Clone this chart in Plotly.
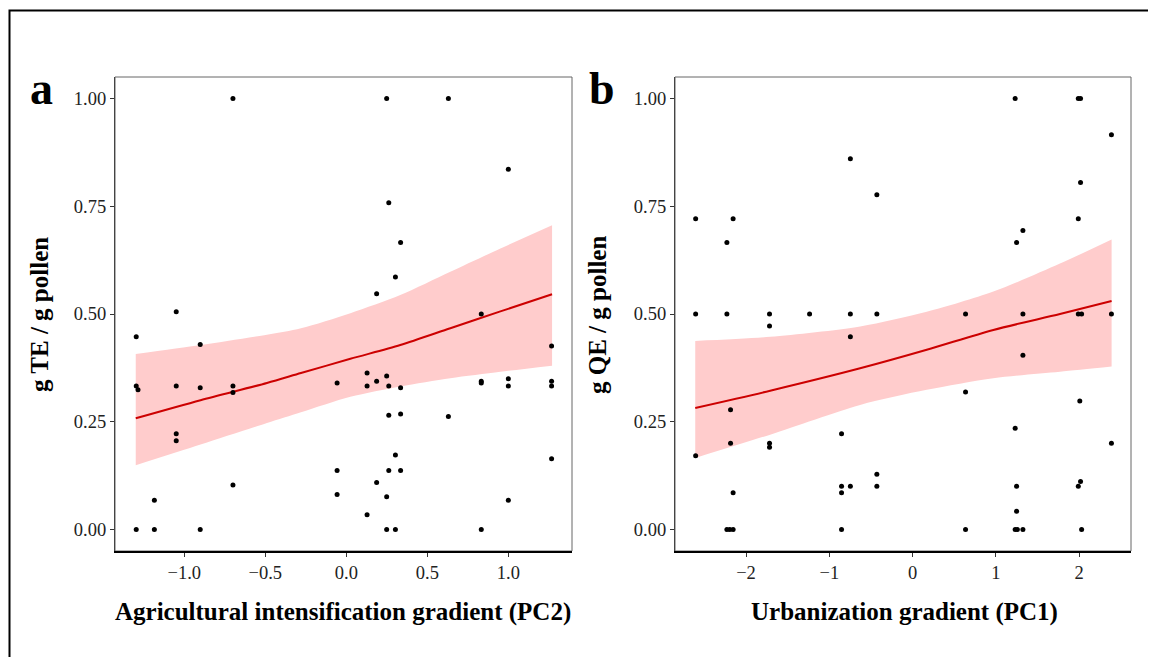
import plotly.graph_objects as go

# ---------------- Panel a data ----------------
a_x = [-0.70, 0.249, 0.63, 1.0, 0.262, 0.335, 0.303, 0.187, -1.05, 0.833, -1.297, -0.902, 1.267,
       -1.297, -1.286, -1.05, -0.902, -0.70, -0.70, -0.057, 0.128, 0.128, 0.187, 0.249, 0.262, 0.335,
       0.833, 0.833, 1.0, 1.0, 1.267, 1.267,
       0.262, 0.335, 0.63, -1.05, -1.05, 0.303, 1.267, -0.057, 0.262, 0.335, -0.70, 0.187, -0.057,
       0.249, -1.185, 1.0, 0.128,
       -1.297, -1.185, -0.902, 0.249, 0.303, 0.833]
a_y = [1.0, 1.0, 1.0, 0.836, 0.758, 0.666, 0.586, 0.547, 0.505, 0.50, 0.447, 0.429, 0.426,
       0.333, 0.324, 0.333, 0.329, 0.333, 0.318, 0.340, 0.363, 0.333, 0.344, 0.356, 0.333, 0.329,
       0.344, 0.340, 0.350, 0.333, 0.344, 0.333,
       0.265, 0.268, 0.262, 0.222, 0.206, 0.173, 0.164, 0.137, 0.137, 0.137, 0.103, 0.109, 0.081,
       0.076, 0.068, 0.068, 0.034,
       0.0, 0.0, 0.0, 0.0, 0.0, 0.0]

# fitted curve and confidence band
a_fit_x = [-1.30, -0.90, -0.49, -0.28, 0.025, 0.333, 0.642, 0.951, 1.27]
a_fit_y = [0.258, 0.300, 0.340, 0.363, 0.396, 0.428, 0.467, 0.506, 0.546]
a_upper = [0.407, 0.428, 0.452, 0.467, 0.502, 0.544, 0.598, 0.652, 0.706]
a_lower = [0.149, 0.197, 0.247, 0.272, 0.308, 0.332, 0.351, 0.366, 0.380]

# ---------------- Panel b data ----------------
b_x = [1.232, 1.99, 2.017, 2.388, -0.747, -0.429, 2.017, -2.605, -2.155, 1.99, -2.23, 1.249, 1.325,
       -2.605, -2.23, -1.718, -1.237, -0.747, -0.429, 0.636, 1.325, 1.99, 2.03, 2.388,
       -1.718, -0.747, 1.325, 0.636, 2.008, -2.186, 1.232, -0.853, -2.186, -1.718, -1.718, 2.388,
       -2.605, -0.429, 2.017, -0.853, -0.747, -0.429, 1.249, 1.99, -0.853, -2.155, 1.249,
       -2.23, -2.195, -2.155, -0.853, 0.636, 1.232, 1.258, 1.325, 2.03]
b_y = [1.0, 1.0, 1.0, 0.916, 0.860, 0.777, 0.805, 0.721, 0.721, 0.721, 0.666, 0.666, 0.694,
       0.5, 0.5, 0.5, 0.5, 0.5, 0.5, 0.5, 0.5, 0.5, 0.5, 0.5,
       0.472, 0.447, 0.404, 0.319, 0.298, 0.278, 0.235, 0.222, 0.200, 0.200, 0.191, 0.200,
       0.171, 0.128, 0.111, 0.100, 0.100, 0.100, 0.100, 0.100, 0.085, 0.085, 0.042,
       0.0, 0.0, 0.0, 0.0, 0.0, 0.0, 0.0, 0.0, 0.0]

b_fit_x = [-2.61, -1.71, -0.63, 0.17, 0.97, 1.77, 2.39]
b_fit_y = [0.282, 0.322, 0.374, 0.417, 0.463, 0.500, 0.530]
b_upper = [0.4375, 0.447, 0.471, 0.505, 0.552, 0.617, 0.673]
b_lower = [0.166, 0.220, 0.289, 0.324, 0.351, 0.366, 0.378]

a_xticks = [-1.0, -0.5, 0.0, 0.5, 1.0]
a_xticklabels = ["\u22121.0", "\u22120.5", "0.0", "0.5", "1.0"]
b_xticks = [-2, -1, 0, 1, 2]
b_xticklabels = ["\u22122", "\u22121", "0", "1", "2"]
yticks = [0.0, 0.25, 0.5, 0.75, 1.0]
yticklabels = ["0.00", "0.25", "0.50", "0.75", "1.00"]

# page body has an 8px margin: figure is drawn at (8, 8)
OFF = 8
W, H = 1156 - OFF, 657 - OFF
FONT = "Liberation Serif"
BAND = "rgb(255,204,204)"
LINE = "rgb(204,0,0)"


def px(x):
    return (x - OFF) / W


def py(y):
    return 1 - (y - OFF) / H


fig = go.Figure()


def add_panel(xs, ys, fx, fy, up, lo, xa, ya):
    fig.add_trace(go.Scatter(x=fx, y=lo, mode="lines",
                             line=dict(width=0, color=BAND, shape="spline", smoothing=0.8),
                             hoverinfo="skip", showlegend=False, xaxis=xa, yaxis=ya))
    fig.add_trace(go.Scatter(x=fx, y=up, mode="lines", fill="tonexty", fillcolor=BAND,
                             line=dict(width=0, color=BAND, shape="spline", smoothing=0.8),
                             hoverinfo="skip", showlegend=False, xaxis=xa, yaxis=ya))
    fig.add_trace(go.Scatter(x=fx, y=fy, mode="lines",
                             line=dict(color=LINE, width=2, shape="spline", smoothing=0.8),
                             showlegend=False, xaxis=xa, yaxis=ya))
    fig.add_trace(go.Scatter(x=xs, y=ys, mode="markers", marker=dict(color="black", size=5),
                             showlegend=False, xaxis=xa, yaxis=ya))


add_panel(a_x, a_y, a_fit_x, a_fit_y, a_upper, a_lower, "x", "y")
add_panel(b_x, b_y, b_fit_x, b_fit_y, b_upper, b_lower, "x2", "y2")

ydom = [py(551), py(77)]
common_ax = dict(showgrid=False, zeroline=False, ticks="outside", ticklen=4, tickwidth=1,
                 tickcolor="#333", tickfont=dict(family=FONT, size=18.5, color="#222"))

fig.update_layout(
    width=W, height=H, margin=dict(l=0, r=0, t=0, b=0),
    paper_bgcolor="white", plot_bgcolor="white",
    xaxis=dict(domain=[px(115), px(572)], range=[-1.428, 1.393], tickvals=a_xticks,
               ticktext=a_xticklabels, anchor="y", showline=True, linecolor="black", linewidth=2,
               **common_ax),
    yaxis=dict(domain=ydom, range=[-0.05, 1.05], tickvals=yticks, ticktext=yticklabels,
               anchor="x", showline=True, linecolor="#444", linewidth=1.2, **common_ax),
    xaxis2=dict(domain=[px(675), px(1131)], range=[-2.853, 2.623], tickvals=b_xticks,
                ticktext=b_xticklabels, anchor="y2", showline=True, linecolor="black", linewidth=2,
                **common_ax),
    yaxis2=dict(domain=ydom, range=[-0.05, 1.05], tickvals=yticks, ticktext=yticklabels,
                anchor="x2", showline=True, linecolor="#444", linewidth=1.2, **common_ax),
)

# panel frames (top/right lighter)
for xr, yr in [("x domain", "y domain"), ("x2 domain", "y2 domain")]:
    fig.add_shape(type="rect", xref=xr, yref=yr, x0=0, x1=1, y0=0, y1=1,
                  line=dict(color="#666", width=1), layer="below")

# outer figure border
fig.add_shape(type="rect", xref="paper", yref="paper", x0=px(9.5), x1=1.02, y0=-0.02,
              y1=py(10.5), line=dict(color="black", width=2))

ann = []
ann.append(dict(text="<b>a</b>", x=px(41), y=py(88), font=dict(family=FONT, size=46, color="black")))
ann.append(dict(text="<b>b</b>", x=px(602), y=py(88), font=dict(family=FONT, size=46, color="black")))
ann.append(dict(text="<b>Agricultural intensification gradient (PC2)</b>", x=px(343), y=py(612),
                font=dict(family=FONT, size=25, color="black")))
ann.append(dict(text="<b>Urbanization gradient (PC1)</b>", x=px(904), y=py(612),
                font=dict(family=FONT, size=25, color="black")))
ann.append(dict(text="<b>g TE / g pollen</b>", x=px(39), y=py(315), textangle=-90,
                font=dict(family=FONT, size=25, color="black")))
ann.append(dict(text="<b>g QE / g pollen</b>", x=px(597), y=py(315), textangle=-90,
                font=dict(family=FONT, size=25, color="black")))
for a in ann:
    fig.add_annotation(xref="paper", yref="paper", showarrow=False, xanchor="center",
                       yanchor="middle", **a)

fig.write_html("out.html")
